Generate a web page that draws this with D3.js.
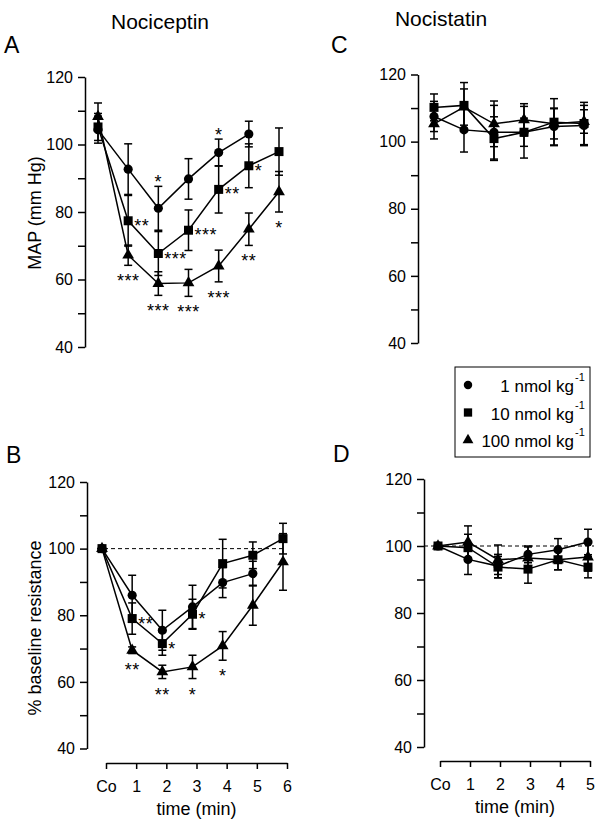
<!DOCTYPE html>
<html>
<head>
<meta charset="utf-8">
<script src="https://cdn.jsdelivr.net/npm/d3@7"></script>
<style>
  body { margin: 0; background: #fff; }
  svg { font-family: Arial, "Liberation Sans", sans-serif; }
  .axis path, .axis line { stroke: #000; stroke-width: 1.5; }
  .axis text { font-size: 16px; fill: #000; font-family: Arial, "Liberation Sans", sans-serif; }
</style>
</head>
<body>
<div id="chart"></div>
<script>
const width = 601, height = 823;

const cats6 = ["Co", "1", "2", "3", "4", "5", "6"];
const cats5 = ["Co", "1", "2", "3", "4", "5"];
const doses = ["1 nmol kg", "10 nmol kg", "100 nmol kg"];

// A: MAP, nociceptin (mean, sem)
const a1 = [104.4, 92.7, 81.1, 89.8, 97.6, 103.1];
const a1e = [4, 7.5, 6.5, 6, 4, 3.8];
const a10 = [105.2, 77.4, 67.7, 74.6, 86.7, 93.7, 97.9];
const a10e = [4, 7.5, 6.5, 6, 7, 6.5, 7];
const a100 = [108.3, 67.2, 58.8, 59, 64, 74.9, 86];
const a100e = [4, 3, 3.5, 4, 4.7, 4.8, 6];

// B: resistance, nociceptin
const b1 = [100, 86, 75.5, 82.5, 89.8, 92.5];
const b1e = [0, 6, 6, 6.5, 4.5, 3.7];
const b10 = [100, 79, 71.5, 80.3, 95.5, 98, 103];
const b10e = [0, 4.7, 3.5, 4.5, 7.3, 4, 4.6];
const b100 = [100, 69.5, 63, 64.5, 70.8, 83, 96];
const b100e = [0, 1, 2, 3.5, 4.3, 6, 8.5];

// C: MAP, nocistatin
const c1 = [107.5, 103.5, 102.8, 102.8, 104.5, 104.8];
const c1e = [4.5, 6.6, 8, 7.7, 5.5, 6];
const c10 = [110.2, 110.8, 100.9, 102.8, 105.8, 105.4];
const c10e = [4, 6.8, 6.5, 4.2, 7, 6.3];
const c100 = [105.3, 110.3, 105.3, 106.5, 105.3, 106];
const c100e = [4.5, 5.4, 6.8, 4.8, 4.5, 3.5];

// D: resistance, nocistatin
const d1 = [100, 96, 94, 97.5, 98.9, 101.2];
const d1e = [0, 4.5, 3.5, 2.5, 3.3, 3.8];
const d10 = [100, 99.5, 93.7, 93.1, 95.9, 93.7];
const d10e = [0, 4, 3.2, 4.2, 3, 3.2];
const d100 = [100, 101.2, 95.9, 96.4, 95.9, 96.7];
const d100e = [0, 4.8, 4.4, 3.3, 3, 4.2];

// significance marks: series index, time index, text, where
const starsA = [
  [0, 2, "*", "above"], [0, 4, "*", "above"],
  [1, 1, "**", "right"], [1, 2, "***", "right"], [1, 3, "***", "right"], [1, 4, "**", "right"], [1, 5, "*", "right"],
  [2, 1, "***", "below"], [2, 2, "***", "below"], [2, 3, "***", "below"], [2, 4, "***", "below"], [2, 5, "**", "below"], [2, 6, "*", "below"]
];
const starsB = [
  [1, 1, "**", "right"], [1, 2, "*", "right"], [1, 3, "*", "right"],
  [2, 1, "**", "below"], [2, 2, "**", "below"], [2, 3, "*", "below"], [2, 4, "*", "below"]
];

const yTicks = [40, 50, 60, 70, 80, 90, 100, 110, 120];
const symbols = [d3.symbolCircle, d3.symbolSquare, d3.symbolTriangle];
const symSize = [66, 81, 60];

const svg = d3.select('#chart').append('svg')
  .attr('width', width)
  .attr('height', height);

const panels = [
  { cats: cats6, xr: [98, 279], yr: [347, 77], ax: 85, series: [[a1, a1e], [a10, a10e], [a100, a100e]], stars: starsA },
  { cats: cats6, xr: [102, 283], yr: [748.5, 482], ax: 87, series: [[b1, b1e], [b10, b10e], [b100, b100e]], stars: starsB,
    xaxis: { y: 763, dx: 4 }, dash: [97, 283] },
  { cats: cats5, xr: [434, 584], yr: [343, 74.5], ax: 418, series: [[c1, c1e], [c10, c10e], [c100, c100e]], stars: [] },
  { cats: cats5, xr: [438, 588], yr: [747, 479], ax: 424, series: [[d1, d1e], [d10, d10e], [d100, d100e]], stars: [],
    xaxis: { y: 761, dx: 2 }, dash: [424, 594] }
];

panels.forEach(p => {
  const x = d3.scalePoint().domain(p.cats).range(p.xr);
  const y = d3.scaleLinear().domain([40, 120]).range(p.yr);
  const g = svg.append('g');

  g.append('g')
    .attr('class', 'axis')
    .attr('transform', `translate(${p.ax},0)`)
    .call(d3.axisLeft(y).tickValues(yTicks).tickSize(7).tickSizeOuter(0).tickPadding(5)
      .tickFormat(d => d % 20 === 0 ? d : ""));

  if (p.xaxis) {
    g.append('g')
      .attr('class', 'axis')
      .attr('transform', `translate(${p.xaxis.dx},${p.xaxis.y})`)
      .call(d3.axisBottom(x).tickSize(6).tickSizeOuter(0).tickPadding(12));
    g.append('text')
      .attr('x', (p.xr[0] + p.xr[1]) / 2 + p.xaxis.dx)
      .attr('y', p.xaxis.y + 52)
      .attr('text-anchor', 'middle')
      .style('font-size', '18px')
      .text('time (min)');
  }

  if (p.dash) {
    g.append('line')
      .attr('x1', p.dash[0]).attr('x2', p.dash[1])
      .attr('y1', y(100)).attr('y2', y(100))
      .attr('stroke', '#000').attr('stroke-width', 1)
      .attr('stroke-dasharray', '4,3');
  }

  p.series.forEach(([m, e], s) => {
    const pts = m.map((v, i) => ({ x: x(p.cats[i]), v: v, e: e[i] }));
    g.append('path')
      .attr('d', d3.line().x(d => d.x).y(d => y(d.v))(pts))
      .attr('fill', 'none').attr('stroke', '#000').attr('stroke-width', 1.5);

    const eb = g.selectAll(null).data(pts.filter(d => d.e > 0)).join('g');
    eb.append('line')
      .attr('x1', d => d.x).attr('x2', d => d.x)
      .attr('y1', d => y(d.v - d.e)).attr('y2', d => y(d.v + d.e));
    eb.append('line')
      .attr('x1', d => d.x - 4).attr('x2', d => d.x + 4)
      .attr('y1', d => y(d.v + d.e)).attr('y2', d => y(d.v + d.e));
    eb.append('line')
      .attr('x1', d => d.x - 4).attr('x2', d => d.x + 4)
      .attr('y1', d => y(d.v - d.e)).attr('y2', d => y(d.v - d.e));
    eb.selectAll('line').attr('stroke', '#000').attr('stroke-width', 1.5);

    g.selectAll(null).data(pts).join('path')
      .attr('transform', d => `translate(${d.x},${y(d.v)})`)
      .attr('d', d3.symbol().type(symbols[s]).size(symSize[s]))
      .attr('fill', '#000');
  });

  p.stars.forEach(([s, i, t, where]) => {
    const m = p.series[s][0][i], e = p.series[s][1][i];
    const px = x(p.cats[i]);
    let tx = px, ty, anchor = 'middle';
    if (where === 'right') { tx = px + 6; ty = y(m) + 11; anchor = 'start'; }
    if (where === 'below') { ty = y(m - e) + 12 + 10; }
    if (where === 'above') { ty = y(m + e) - 8 + 10; }
    g.append('text')
      .attr('x', tx).attr('y', ty)
      .attr('text-anchor', anchor)
      .style('font-size', '18px')
      .style('letter-spacing', '0.5px')
      .text(t);
  });
});

// titles, panel letters, axis labels
const label = (txt, x, y, size, anchor) => svg.append('text')
  .attr('x', x).attr('y', y)
  .attr('text-anchor', anchor || 'start')
  .style('font-size', size + 'px')
  .text(txt);
label('Nociceptin', 160, 28.5, 21, 'middle');
label('Nocistatin', 441, 25.5, 21, 'middle');
label('A', 4, 53, 23);
label('B', 6, 463, 23);
label('C', 331, 53, 23);
label('D', 333, 462, 23);

svg.append('text')
  .attr('transform', 'translate(41,213) rotate(-90)')
  .attr('text-anchor', 'middle')
  .style('font-size', '18px')
  .text('MAP (mm Hg)');
svg.append('text')
  .attr('transform', 'translate(41,628) rotate(-90)')
  .attr('text-anchor', 'middle')
  .style('font-size', '18px')
  .text('% baseline resistance');

// legend
const legend = svg.append('g');
legend.append('rect')
  .attr('x', 455).attr('y', 367).attr('width', 135).attr('height', 90)
  .attr('fill', 'none').attr('stroke', '#000').attr('stroke-width', 1);
doses.forEach((d, i) => {
  const ly = 385 + i * 27.5;
  legend.append('path')
    .attr('transform', `translate(468,${ly})`)
    .attr('d', d3.symbol().type(symbols[i]).size(symSize[i] * 0.85))
    .attr('fill', '#000');
  legend.append('text')
    .attr('x', 574).attr('y', ly + 7)
    .attr('text-anchor', 'end')
    .style('font-size', '17px')
    .text(d);
  legend.append('text')
    .attr('x', 575).attr('y', ly - 4)
    .style('font-size', '11px')
    .text('-1');
});
</script>
</body>
</html>
